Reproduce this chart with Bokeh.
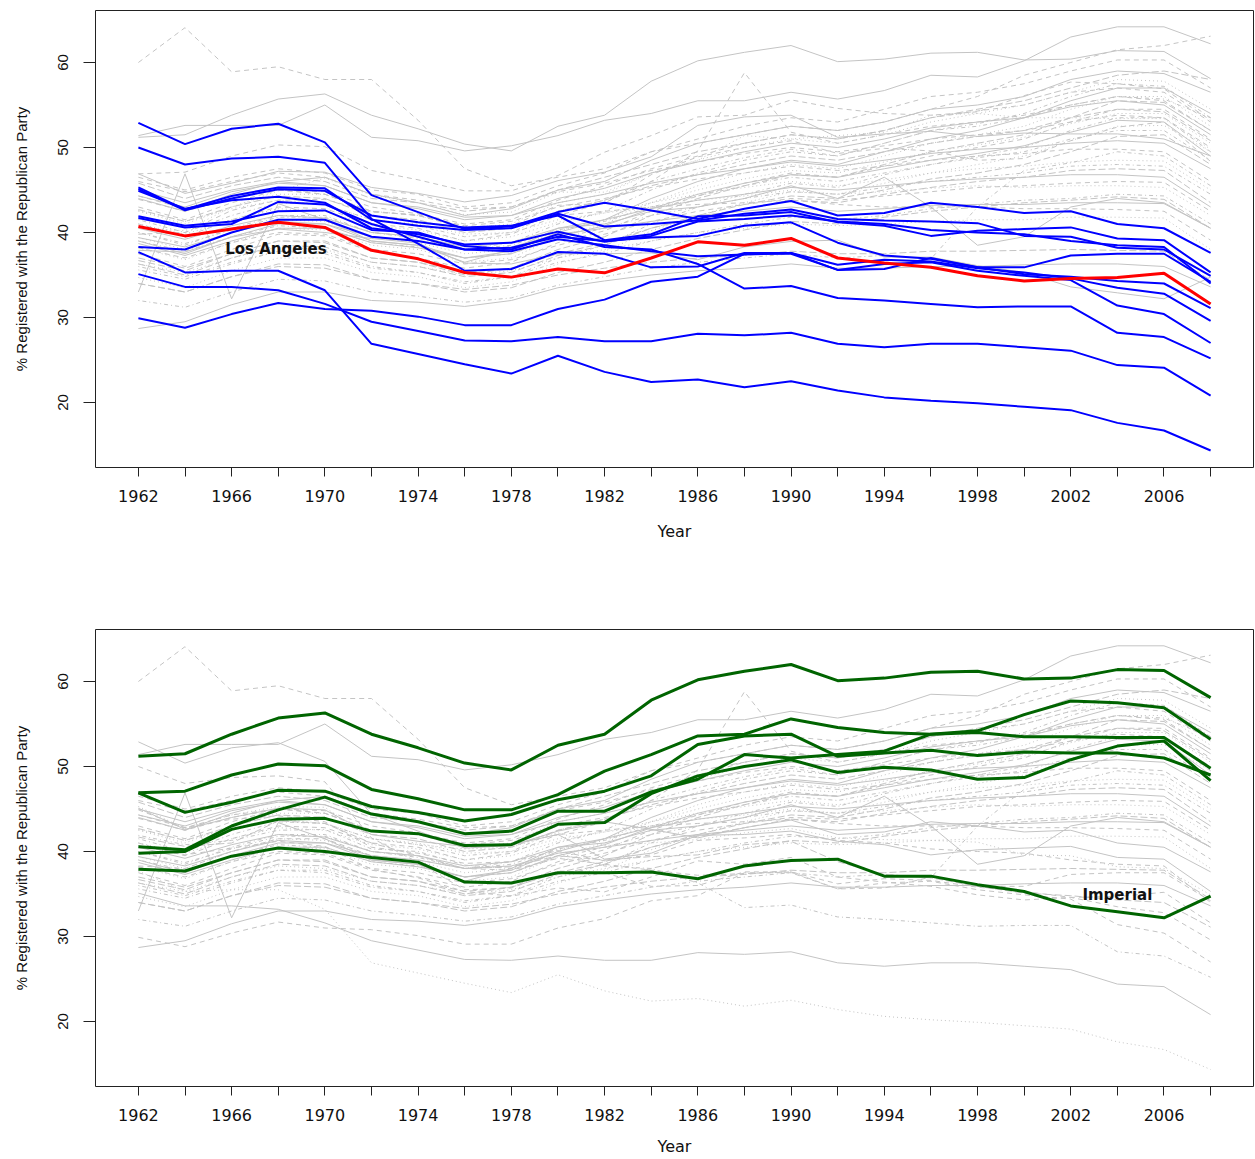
from bokeh.plotting import figure
from bokeh.layouts import column
from bokeh.models import Range1d, FixedTicker, Label
from bokeh.embed import file_html
from bokeh.resources import INLINE

years = list(range(1962, 2009, 2))
x_tick_labels = {y: (str(y) if (y - 1962) % 4 == 0 else "") for y in years}
y_ticks = [20, 30, 40, 50, 60]
y_title = "% Registered with the Republican Party"

# ---- highlighted counties, top panel (blue) ----
blue_01 = [52.9, 50.4, 52.2, 52.8, 50.6, 44.4, 42.4, 40.4, 40.7, 42.4, 43.5, 42.6, 41.6, 42.8, 43.7, 42.0, 42.3, 43.5, 43.0, 42.3, 42.5, 41.0, 40.5, 37.6]
blue_02 = [50.0, 48.0, 48.7, 48.9, 48.2, 41.6, 38.7, 35.5, 35.7, 37.7, 37.5, 35.9, 36.0, 37.6, 37.6, 35.6, 35.7, 37.0, 35.9, 35.9, 37.3, 37.5, 37.5, 34.2]
blue_03 = [45.3, 42.7, 44.3, 45.3, 45.2, 41.5, 40.8, 40.3, 40.5, 42.2, 40.7, 41.0, 41.4, 42.2, 42.7, 41.6, 41.4, 41.3, 41.1, 39.6, 39.5, 38.2, 38.0, 34.9]
blue_04 = [45.1, 42.6, 44.0, 45.1, 44.9, 42.0, 41.2, 40.6, 40.8, 42.0, 39.1, 39.8, 41.9, 42.0, 42.4, 41.2, 40.8, 39.6, 40.2, 40.4, 40.6, 39.3, 39.1, 35.3]
blue_05 = [44.9, 42.8, 43.8, 44.2, 43.5, 40.5, 39.8, 38.6, 38.8, 40.1, 38.9, 39.6, 41.3, 41.6, 42.0, 41.3, 41.0, 40.3, 40.0, 39.8, 39.0, 38.5, 38.3, 34.0]
blue_06 = [41.9, 40.8, 41.3, 42.5, 42.6, 40.3, 40.0, 38.4, 38.0, 39.8, 38.3, 38.0, 36.3, 33.4, 33.7, 32.3, 32.0, 31.6, 31.2, 31.3, 31.3, 28.2, 27.7, 25.2]
blue_07 = [41.7, 40.6, 41.0, 43.6, 43.3, 41.0, 39.5, 38.0, 38.2, 39.5, 39.0, 39.4, 39.6, 40.8, 41.2, 38.8, 37.3, 36.9, 35.9, 35.1, 34.8, 34.3, 34.0, 31.1]
blue_08 = [38.3, 38.0, 40.0, 41.5, 41.5, 39.5, 39.0, 38.0, 37.8, 39.2, 38.5, 37.8, 37.2, 37.4, 37.6, 36.2, 36.8, 36.6, 35.8, 35.3, 34.6, 33.5, 32.8, 29.6]
blue_09 = [37.7, 35.3, 35.5, 35.5, 33.2, 26.9, 25.7, 24.5, 23.4, 25.5, 23.6, 22.4, 22.7, 21.8, 22.5, 21.4, 20.6, 20.2, 19.9, 19.5, 19.1, 17.6, 16.7, 14.35]
blue_10 = [35.1, 33.6, 33.6, 33.2, 31.6, 29.5, 28.4, 27.3, 27.2, 27.7, 27.2, 27.2, 28.1, 27.9, 28.2, 26.9, 26.5, 26.9, 26.9, 26.5, 26.1, 24.4, 24.1, 20.8]
blue_11 = [29.9, 28.8, 30.4, 31.7, 31.0, 30.8, 30.1, 29.1, 29.1, 31.0, 32.1, 34.2, 34.8, 37.5, 37.5, 35.6, 36.3, 36.5, 35.5, 34.9, 34.4, 31.4, 30.4, 27.0]
los_angeles = [40.7, 39.6, 40.4, 41.2, 40.6, 37.9, 36.9, 35.3, 34.75, 35.7, 35.25, 37.0, 38.9, 38.5, 39.3, 37.0, 36.4, 35.9, 34.9, 34.3, 34.6, 34.7, 35.2, 31.6]

# ---- highlighted counties, bottom panel (green) ----
green_01 = [51.2, 51.5, 53.8, 55.7, 56.3, 53.8, 52.2, 50.4, 49.6, 52.5, 53.8, 57.8, 60.2, 61.2, 62.0, 60.1, 60.4, 61.1, 61.2, 60.3, 60.4, 61.4, 61.3, 58.1]
green_02 = [46.9, 47.1, 49.0, 50.3, 50.1, 47.3, 46.2, 44.9, 44.9, 46.7, 49.45, 51.4, 53.6, 53.8, 55.6, 54.6, 54.0, 53.8, 54.2, 56.1, 57.7, 57.5, 56.9, 53.2]
green_03 = [46.9, 44.6, 45.8, 47.2, 47.1, 45.3, 44.6, 43.6, 44.35, 46.1, 47.1, 48.9, 52.6, 53.6, 53.8, 51.2, 51.6, 51.9, 51.3, 51.7, 51.6, 51.6, 51.0, 49.0]
green_04 = [40.55, 40.2, 43.0, 44.9, 46.4, 44.4, 43.5, 42.1, 42.4, 44.75, 44.75, 47.0, 48.5, 51.4, 51.0, 51.4, 51.8, 53.8, 54.0, 53.5, 53.5, 53.4, 53.4, 49.8]
green_05 = [39.8, 40.0, 42.6, 43.8, 43.9, 42.4, 42.1, 40.7, 40.8, 43.2, 43.4, 46.8, 48.9, 50.0, 50.8, 49.3, 49.9, 49.6, 48.5, 48.7, 50.8, 52.4, 53.0, 48.35]
imperial = [37.9, 37.7, 39.45, 40.4, 40.0, 39.3, 38.75, 36.4, 36.3, 37.5, 37.5, 37.6, 36.8, 38.3, 38.95, 39.1, 37.1, 37.1, 36.1, 35.3, 33.6, 32.9, 32.2, 34.75]

# ---- remaining counties (grey only) ----
grey_01 = [51.4, 52.6, 52.6, 52.6, 55.0, 51.2, 50.8, 49.6, 50.2, 51.4, 53.2, 54.0, 55.5, 55.5, 56.5, 55.7, 56.7, 58.5, 58.3, 60.2, 63.0, 64.2, 64.2, 62.2]
grey_02 = [60.0, 64.1, 58.9, 59.5, 58.0, 58.0, 53.2, 47.5, 45.5, 46.5, 47.5, 49.5, 50.5, 51.5, 52.5, 52.0, 53.0, 54.5, 56.0, 58.5, 60.0, 61.5, 62.0, 63.1]
grey_03 = [33.0, 46.9, 32.2, 43.4, 41.5, 39.0, 38.5, 36.5, 38.0, 40.5, 41.0, 42.5, 43.0, 44.0, 45.5, 44.0, 46.5, 43.0, 38.5, 39.5, 43.0, 44.0, 43.5, 40.5]
grey_04 = [41.0, 39.5, 41.5, 43.0, 42.8, 41.0, 40.5, 39.0, 39.8, 42.0, 43.5, 46.0, 49.6, 58.8, 51.8, 50.5, 51.5, 52.5, 53.0, 53.8, 55.0, 56.0, 55.5, 52.0]
grey_05 = [44.0, 42.5, 44.5, 46.0, 46.5, 44.5, 43.5, 42.0, 42.8, 45.0, 46.0, 48.5, 50.5, 51.5, 52.5, 52.0, 53.0, 54.5, 55.0, 56.0, 58.0, 59.0, 58.7, 56.5]
grey_06 = [46.5, 45.0, 46.5, 47.5, 47.0, 45.0, 44.5, 43.0, 43.5, 45.5, 47.0, 49.5, 51.0, 52.5, 53.5, 53.0, 54.5, 56.0, 56.5, 57.5, 59.0, 60.3, 60.3, 57.0]
grey_07 = [42.5, 41.0, 43.0, 44.5, 44.5, 42.5, 42.0, 40.5, 41.0, 43.5, 44.5, 47.0, 48.5, 50.0, 51.0, 50.5, 51.5, 53.0, 54.0, 55.0, 56.5, 58.0, 57.8, 54.5]
grey_08 = [40.0, 38.5, 40.5, 42.0, 42.0, 40.0, 39.5, 38.0, 38.8, 41.0, 42.5, 45.0, 47.0, 48.5, 49.5, 49.0, 50.5, 52.0, 52.8, 54.0, 56.0, 57.5, 57.2, 53.5]
grey_09 = [45.8, 44.0, 45.5, 46.5, 46.0, 44.0, 43.5, 42.5, 43.0, 45.0, 46.5, 48.0, 49.5, 50.5, 51.5, 51.0, 52.0, 53.5, 54.5, 55.5, 57.0, 58.5, 59.0, 58.0]
grey_10 = [39.0, 37.5, 39.5, 41.0, 41.0, 39.0, 38.5, 37.0, 37.8, 40.0, 41.5, 44.0, 46.0, 47.5, 48.5, 48.0, 49.5, 51.0, 52.0, 53.5, 55.5, 57.0, 57.0, 54.0]
grey_11 = [43.0, 41.5, 43.5, 45.0, 44.8, 43.0, 42.2, 41.0, 41.5, 43.8, 45.5, 47.5, 49.0, 50.5, 51.5, 51.0, 52.0, 53.5, 54.3, 55.0, 56.5, 57.0, 56.5, 53.0]
grey_12 = [38.2, 36.8, 38.8, 40.5, 40.3, 38.5, 38.0, 36.5, 37.0, 39.5, 41.0, 43.5, 45.5, 47.0, 48.0, 47.5, 49.0, 50.5, 51.5, 52.5, 54.5, 56.0, 56.0, 52.5]
grey_13 = [41.5, 40.0, 42.0, 43.5, 43.3, 41.5, 40.8, 39.5, 40.0, 42.5, 43.8, 46.0, 47.5, 48.8, 49.8, 49.0, 50.5, 52.0, 52.5, 53.5, 55.0, 56.0, 55.7, 53.5]
grey_14 = [36.7, 35.5, 37.5, 39.0, 39.0, 37.0, 36.5, 35.0, 35.8, 38.0, 39.5, 42.0, 44.0, 45.5, 46.8, 46.5, 48.0, 49.5, 50.5, 51.5, 53.5, 55.5, 55.3, 52.0]
grey_15 = [44.3, 43.0, 44.8, 45.8, 45.5, 43.5, 42.8, 41.5, 42.0, 44.0, 45.2, 47.0, 48.3, 49.5, 50.5, 50.0, 51.0, 52.3, 53.0, 53.5, 54.8, 55.5, 55.0, 51.5]
grey_16 = [37.5, 36.0, 38.0, 39.8, 39.6, 37.8, 37.0, 35.8, 36.5, 38.8, 40.2, 42.5, 44.3, 45.8, 47.0, 46.5, 47.8, 49.0, 50.0, 51.0, 53.0, 54.5, 54.5, 51.0]
grey_17 = [39.4, 38.0, 40.0, 41.5, 41.3, 39.5, 38.8, 37.5, 38.0, 40.2, 41.5, 43.5, 45.0, 46.3, 47.3, 47.0, 48.3, 49.5, 50.3, 51.2, 52.8, 54.0, 54.0, 50.5]
grey_18 = [35.6, 34.5, 36.3, 37.8, 37.8, 36.0, 35.3, 34.0, 34.8, 37.0, 38.5, 41.0, 43.0, 44.5, 45.8, 45.3, 46.8, 48.0, 49.0, 50.0, 52.0, 53.5, 53.5, 49.5]
grey_19 = [42.7, 41.3, 43.0, 44.3, 44.0, 42.0, 41.5, 40.0, 40.5, 42.5, 43.8, 45.5, 46.8, 48.0, 49.0, 48.5, 49.5, 50.5, 51.3, 52.0, 53.5, 54.5, 54.2, 50.8]
grey_20 = [38.7, 37.3, 39.0, 40.5, 40.5, 38.8, 38.2, 37.0, 37.5, 39.5, 40.8, 42.8, 44.5, 45.8, 46.8, 46.5, 47.5, 48.5, 49.3, 50.2, 51.8, 53.2, 53.0, 49.0]
grey_21 = [46.0, 44.8, 46.0, 47.0, 46.5, 44.5, 43.8, 42.8, 43.0, 44.8, 45.8, 47.3, 48.3, 49.3, 50.0, 49.5, 50.2, 51.0, 51.5, 52.0, 53.0, 53.8, 53.5, 50.0]
grey_22 = [34.7, 33.5, 35.5, 37.0, 37.0, 35.3, 34.8, 33.5, 34.2, 36.3, 37.8, 40.2, 42.0, 43.5, 44.8, 44.5, 45.8, 47.0, 48.0, 49.0, 50.8, 52.5, 52.6, 49.5]
grey_23 = [40.0, 38.7, 40.3, 41.8, 41.8, 40.0, 39.3, 38.0, 38.5, 40.3, 41.3, 43.0, 44.3, 45.5, 46.5, 46.0, 47.0, 48.0, 48.8, 49.5, 51.0, 52.0, 52.0, 48.5]
grey_24 = [36.3, 35.0, 37.0, 38.5, 38.3, 36.5, 36.0, 34.8, 35.3, 37.3, 38.5, 40.5, 42.0, 43.3, 44.3, 44.0, 45.0, 46.3, 47.0, 48.0, 49.5, 51.3, 51.5, 48.0]
grey_25 = [45.0, 43.5, 45.0, 46.0, 45.5, 43.5, 43.0, 41.8, 42.0, 43.5, 44.5, 45.8, 46.8, 47.5, 48.3, 47.8, 48.5, 49.3, 49.8, 50.0, 50.5, 50.8, 50.5, 47.5]
grey_26 = [43.9, 42.5, 44.0, 45.0, 44.5, 42.5, 42.0, 40.8, 41.3, 43.0, 44.0, 45.3, 46.3, 47.0, 47.8, 47.3, 47.8, 48.5, 49.0, 49.3, 49.8, 49.8, 49.5, 46.0]
grey_27 = [41.0, 39.8, 41.5, 42.8, 42.5, 40.8, 40.3, 39.0, 39.5, 41.2, 42.3, 43.5, 44.5, 45.3, 46.0, 45.5, 46.2, 47.0, 47.5, 47.8, 48.3, 48.5, 48.4, 45.0]
grey_28 = [39.0, 37.8, 39.5, 40.8, 40.5, 38.8, 38.3, 37.0, 37.5, 39.3, 40.5, 42.0, 43.0, 44.0, 44.8, 44.5, 45.3, 46.0, 46.5, 47.0, 47.8, 48.0, 47.8, 44.5]
grey_29 = [37.0, 35.8, 37.5, 39.0, 38.8, 37.0, 36.5, 35.3, 35.8, 37.5, 38.8, 40.5, 41.8, 42.8, 43.8, 43.5, 44.5, 45.3, 46.0, 46.5, 47.3, 47.5, 47.3, 43.5]
grey_30 = [40.5, 39.2, 40.8, 42.0, 41.7, 40.0, 39.5, 38.3, 38.8, 40.5, 41.5, 42.8, 43.8, 44.5, 45.3, 45.0, 45.5, 46.0, 46.3, 46.5, 46.8, 46.8, 46.5, 43.0]
grey_31 = [38.2, 37.0, 38.8, 40.0, 39.8, 38.0, 37.5, 36.3, 36.8, 38.5, 39.8, 41.3, 42.5, 43.3, 44.0, 43.8, 44.3, 44.8, 45.3, 45.5, 45.8, 46.0, 45.9, 42.5]
grey_32 = [42.6, 41.3, 42.8, 43.8, 43.3, 41.5, 41.0, 39.8, 40.0, 41.5, 42.3, 43.0, 43.8, 44.3, 45.0, 44.5, 44.8, 45.2, 45.5, 45.3, 45.5, 45.5, 45.3, 42.0]
grey_33 = [36.0, 34.8, 36.5, 37.8, 37.5, 35.8, 35.3, 34.2, 34.8, 36.5, 37.5, 39.0, 40.0, 41.0, 41.8, 41.5, 42.0, 42.8, 43.3, 43.8, 44.0, 44.5, 44.3, 41.0]
grey_34 = [34.0, 33.0, 34.8, 36.3, 36.2, 34.5, 34.0, 33.0, 33.5, 35.3, 36.5, 38.0, 39.3, 40.3, 41.3, 41.0, 41.8, 42.5, 43.0, 43.5, 43.8, 44.2, 43.9, 40.5]
grey_35 = [39.4, 38.3, 40.0, 41.3, 41.0, 39.5, 39.0, 38.0, 38.3, 39.8, 40.5, 41.3, 42.0, 42.5, 43.0, 42.5, 42.8, 43.2, 43.3, 43.3, 43.5, 43.5, 43.4, 40.5]
grey_36 = [44.3, 42.8, 44.3, 45.0, 44.5, 42.5, 42.0, 40.5, 40.8, 42.0, 42.5, 43.0, 43.3, 43.5, 43.8, 43.3, 43.0, 43.0, 43.0, 42.8, 42.8, 42.7, 42.5, 39.1]
grey_37 = [36.3, 35.3, 37.0, 38.3, 38.0, 36.5, 36.0, 35.0, 35.5, 37.0, 38.0, 39.0, 40.0, 40.5, 41.0, 40.8, 41.0, 41.3, 41.5, 41.5, 41.8, 41.8, 41.7, 38.0]
grey_38 = [32.0, 31.2, 33.0, 34.5, 34.3, 33.0, 32.5, 31.8, 32.3, 33.8, 34.8, 35.8, 36.5, 37.0, 37.5, 37.0, 37.3, 36.9, 43.0, 47.3, 48.2, 49.5, 49.0, 45.5]
grey_39 = [34.0, 33.0, 34.8, 36.0, 35.8, 34.5, 34.0, 33.3, 33.8, 35.0, 35.8, 36.5, 37.0, 37.3, 37.8, 37.5, 37.5, 37.8, 37.8, 37.9, 38.0, 37.9, 37.8, 34.4]
grey_40 = [28.7, 29.5, 31.5, 33.0, 33.0, 32.0, 31.8, 31.3, 32.0, 33.5, 34.3, 35.0, 35.5, 35.8, 36.3, 35.8, 35.8, 36.0, 36.0, 36.2, 36.3, 36.3, 36.0, 33.6]

blue_series = [blue_01, blue_02, blue_03, blue_04, blue_05, blue_06,
               blue_07, blue_08, blue_09, blue_10, blue_11]
blue_dash = ["solid", "dashed", "dotted", "solid", "dashed", "dotdash",
             "longdash", "dashed", "dotted", "solid", "dashed"]
green_series = [green_01, green_02, green_03, green_04, green_05, imperial]
green_dash = ["solid", "dashed", "solid", "dotted", "dashed", "solid"]
la_dash = "dashed"
grey_series = [grey_01, grey_02, grey_03, grey_04, grey_05, grey_06, grey_07, grey_08,
               grey_09, grey_10, grey_11, grey_12, grey_13, grey_14, grey_15, grey_16,
               grey_17, grey_18, grey_19, grey_20, grey_21, grey_22, grey_23, grey_24,
               grey_25, grey_26, grey_27, grey_28, grey_29, grey_30, grey_31, grey_32,
               grey_33, grey_34, grey_35, grey_36, grey_37, grey_38, grey_39, grey_40]
dash_cycle = ["solid", "dashed", "dotted", "dotdash", "longdash"]
grey_dash = ["solid", "dashed", "solid", "dashed"] + [dash_cycle[i % 5] for i in range(36)]

DASH = {"solid": "solid", "dashed": "5 4", "dotted": "1 3",
        "dotdash": "1 3 4 3", "longdash": "7 3"}
GREY = "#C4C4C4"
H_FONT = "DejaVu Sans"
V_FONT = "Liberation Sans"


def make_fig(height, border_top, border_bottom, title_standoff):
    p = figure(width=1255, height=height,
               x_range=Range1d(1960.16, 2009.84), y_range=Range1d(12.35, 66.12),
               output_backend="svg", toolbar_location=None,
               min_border_left=95, min_border_right=2,
               min_border_top=border_top, min_border_bottom=border_bottom)
    p.grid.visible = False
    p.outline_line_color = "#222222"
    p.outline_line_width = 1
    p.background_fill_color = "white"
    p.border_fill_color = "white"

    xa = p.xaxis[0]
    xa.ticker = FixedTicker(ticks=years)
    xa.major_label_overrides = x_tick_labels
    xa.minor_tick_line_color = None
    xa.axis_line_color = None
    xa.major_tick_in = 0
    xa.major_tick_out = 9
    xa.major_tick_line_color = "#222222"
    xa.major_label_standoff = 13
    xa.major_label_text_font = H_FONT
    xa.major_label_text_font_size = "16px"
    xa.major_label_text_color = "#111111"
    xa.axis_label = "Year"
    xa.axis_label_text_font = H_FONT
    xa.axis_label_text_font_size = "16px"
    xa.axis_label_text_font_style = "normal"
    xa.axis_label_text_color = "#111111"
    xa.axis_label_standoff = title_standoff

    ya = p.yaxis[0]
    ya.ticker = FixedTicker(ticks=y_ticks)
    ya.minor_tick_line_color = None
    ya.axis_line_color = None
    ya.major_tick_in = 0
    ya.major_tick_out = 12
    ya.major_tick_line_color = "#222222"
    ya.major_label_orientation = "vertical"
    ya.major_label_standoff = 15
    ya.major_label_text_font = V_FONT
    ya.major_label_text_font_size = "15px"
    ya.major_label_text_color = "#111111"
    ya.axis_label = y_title
    ya.axis_label_text_font = V_FONT
    ya.axis_label_text_font_size = "15px"
    ya.axis_label_text_font_style = "normal"
    ya.axis_label_text_color = "#111111"
    ya.axis_label_standoff = 26
    return p


def grey_line(p, vals, dash):
    p.line(years, vals, line_color=GREY, line_width=1, line_dash=DASH[dash])


# ---- top panel ----
p1 = make_fig(579, 10, 112, 17)
for vals, d in zip(grey_series, grey_dash):
    grey_line(p1, vals, d)
for vals, d in zip(green_series, green_dash):
    grey_line(p1, vals, d)
for vals in blue_series:
    p1.line(years, vals, line_color="#0000FF", line_width=2)
p1.line(years, los_angeles, line_color="#FF0000", line_width=3)
p1.add_layout(Label(x=1967.9, y=38.0, text="Los Angeles", text_align="center",
                    text_baseline="middle", text_font=H_FONT, text_font_style="bold",
                    text_font_size="15px", text_color="#111111"))

# ---- bottom panel ----
p2 = make_fig(580, 50, 73, 13)
for vals, d in zip(grey_series, grey_dash):
    grey_line(p2, vals, d)
for vals, d in zip(blue_series, blue_dash):
    grey_line(p2, vals, d)
grey_line(p2, los_angeles, la_dash)
for vals in green_series:
    p2.line(years, vals, line_color="#006400", line_width=3)
p2.add_layout(Label(x=2004.0, y=34.9, text="Imperial", text_align="center",
                    text_baseline="middle", text_font=H_FONT, text_font_style="bold",
                    text_font_size="15px", text_color="#111111"))

layout = column(p1, p2)
open("out.html", "w").write(file_html(layout, INLINE))
